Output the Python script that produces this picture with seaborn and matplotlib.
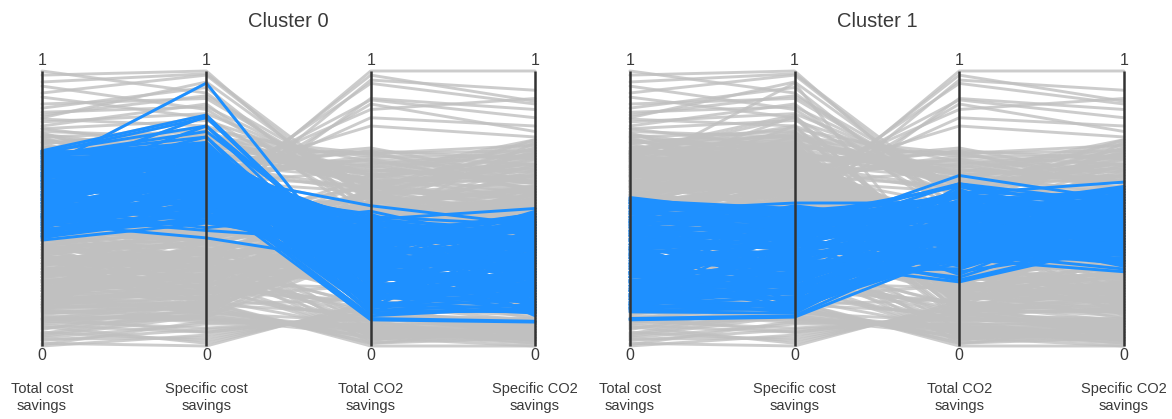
import numpy as np
import pandas as pd
import matplotlib
matplotlib.use("Agg")
import matplotlib.pyplot as plt
import seaborn as sns

# ---------------- data ----------------
categories = ["Total cost savings", "Specific cost savings",
              "Total CO2 savings", "Specific CO2 savings"]
tick_labels = ["Total cost\nsavings", "Specific cost\nsavings",
               "Total CO2\nsavings", "Specific CO2\nsavings"]
panel_titles = ["Cluster 0", "Cluster 1"]

# cluster 0 members
c0_total_cost = [0.645, 0.710, 0.700, 0.705, 0.690, 0.620, 0.385, 0.447, 0.550, 0.580,
                 0.600, 0.520, 0.570, 0.630, 0.700, 0.690, 0.675, 0.660, 0.650, 0.640,
                 0.625, 0.610, 0.600, 0.590, 0.575, 0.560, 0.550, 0.540, 0.530, 0.520,
                 0.510, 0.500, 0.490, 0.480, 0.470, 0.460, 0.450, 0.440, 0.430, 0.420,
                 0.410, 0.400, 0.395, 0.665, 0.685, 0.655, 0.615, 0.585, 0.535, 0.505,
                 0.465, 0.425, 0.605, 0.545, 0.475,
                 0.400, 0.408, 0.416, 0.424, 0.432, 0.440, 0.448, 0.456, 0.464, 0.472,
                 0.480, 0.488, 0.496, 0.504, 0.512, 0.520, 0.528, 0.536, 0.544, 0.552,
                 0.560, 0.568, 0.576, 0.584, 0.592, 0.600, 0.608, 0.616, 0.624, 0.632,
                 0.640, 0.648, 0.656, 0.664, 0.672, 0.680, 0.688, 0.696, 0.704, 0.708,
                 0.580, 0.530, 0.620, 0.470, 0.650,
                 0.392, 0.405, 0.418, 0.430, 0.443, 0.455, 0.468, 0.482, 0.495, 0.508,
                 0.522, 0.535, 0.548, 0.562, 0.575, 0.588, 0.602, 0.615, 0.628, 0.642,
                 0.655, 0.668, 0.682, 0.695, 0.710,
                 0.398, 0.437, 0.476, 0.515, 0.554, 0.593, 0.632, 0.671]
c0_specific_cost = [0.956, 0.840, 0.830, 0.800, 0.780, 0.835, 0.447, 0.393, 0.625, 0.600,
                    0.540, 0.560, 0.580, 0.620, 0.720, 0.730, 0.700, 0.650, 0.720, 0.680,
                    0.560, 0.710, 0.660, 0.500, 0.720, 0.480, 0.690, 0.600, 0.450, 0.640,
                    0.520, 0.700, 0.470, 0.580, 0.420, 0.620, 0.510, 0.450, 0.670, 0.490,
                    0.550, 0.600, 0.470, 0.600, 0.660, 0.540, 0.760, 0.800, 0.700, 0.430,
                    0.560, 0.640, 0.500, 0.670, 0.620,
                    0.500, 0.455, 0.530, 0.480, 0.560, 0.520, 0.470, 0.540, 0.500, 0.590,
                    0.530, 0.610, 0.560, 0.520, 0.600, 0.580, 0.630, 0.550, 0.640, 0.590,
                    0.660, 0.610, 0.650, 0.570, 0.680, 0.630, 0.690, 0.600, 0.700, 0.650,
                    0.710, 0.640, 0.700, 0.670, 0.720, 0.620, 0.690, 0.740, 0.700, 0.680,
                    0.620, 0.680, 0.560, 0.650, 0.590,
                    0.520, 0.580, 0.460, 0.610, 0.540, 0.600, 0.510, 0.640, 0.480, 0.620,
                    0.540, 0.660, 0.520, 0.700, 0.560, 0.680, 0.580, 0.720, 0.590, 0.740,
                    0.680, 0.710, 0.640, 0.760, 0.690,
                    0.490, 0.570, 0.530, 0.650, 0.610, 0.700, 0.670, 0.730]
c0_total_co2 = [0.21, 0.26, 0.28, 0.30, 0.33, 0.25, 0.36, 0.30, 0.51, 0.46,
                0.095, 0.100, 0.130, 0.120, 0.18, 0.22, 0.40, 0.45, 0.35, 0.15,
                0.48, 0.27, 0.38, 0.42, 0.20, 0.35, 0.16, 0.30, 0.44, 0.24,
                0.40, 0.14, 0.33, 0.46, 0.38, 0.19, 0.28, 0.47, 0.22, 0.41,
                0.34, 0.17, 0.43, 0.31, 0.12, 0.26, 0.14, 0.23, 0.29, 0.49,
                0.11, 0.37, 0.20, 0.44, 0.39,
                0.26, 0.32, 0.18, 0.25, 0.21, 0.29, 0.35, 0.24, 0.31, 0.17,
                0.27, 0.20, 0.32, 0.37, 0.26, 0.34, 0.19, 0.40, 0.28, 0.36,
                0.23, 0.42, 0.30, 0.44, 0.25, 0.38, 0.33, 0.47, 0.29, 0.41,
                0.17, 0.36, 0.24, 0.43, 0.31, 0.27, 0.39, 0.15, 0.34, 0.22,
                0.14, 0.16, 0.13, 0.18, 0.15,
                0.40, 0.33, 0.45, 0.28, 0.38, 0.21, 0.43, 0.25, 0.39, 0.18,
                0.46, 0.27, 0.33, 0.20, 0.41, 0.35, 0.24, 0.32, 0.45, 0.19,
                0.38, 0.26, 0.44, 0.23, 0.30,
                0.42, 0.30, 0.36, 0.22, 0.37, 0.26, 0.34, 0.28]
c0_specific_co2 = [0.30, 0.35, 0.22, 0.40, 0.28, 0.31, 0.42, 0.33, 0.44, 0.50,
                   0.087, 0.090, 0.124, 0.130, 0.16, 0.45, 0.20, 0.38, 0.14, 0.47,
                   0.26, 0.18, 0.44, 0.34, 0.25, 0.46, 0.36, 0.15, 0.24, 0.41,
                   0.48, 0.20, 0.12, 0.30, 0.37, 0.43, 0.19, 0.34, 0.27, 0.16,
                   0.45, 0.28, 0.22, 0.49, 0.33, 0.13, 0.40, 0.17, 0.29, 0.36,
                   0.14, 0.11, 0.39, 0.23, 0.47,
                   0.30, 0.27, 0.23, 0.21, 0.18, 0.32, 0.31, 0.26, 0.35, 0.21,
                   0.25, 0.17, 0.29, 0.40, 0.22, 0.38, 0.26, 0.36, 0.32, 0.33,
                   0.19, 0.38, 0.35, 0.41, 0.28, 0.42, 0.30, 0.44, 0.37, 0.46,
                   0.22, 0.27, 0.39, 0.35, 0.44, 0.15, 0.48, 0.12, 0.26, 0.42,
                   0.17, 0.13, 0.15, 0.14, 0.19,
                   0.44, 0.38, 0.41, 0.23, 0.45, 0.27, 0.39, 0.31, 0.43, 0.21,
                   0.42, 0.18, 0.37, 0.30, 0.47, 0.24, 0.34, 0.40, 0.31, 0.16,
                   0.45, 0.21, 0.39, 0.34, 0.28,
                   0.38, 0.35, 0.27, 0.25, 0.43, 0.20, 0.36, 0.32]

# cluster 1 members
c1_total_cost = [0.540, 0.490, 0.350, 0.300, 0.200, 0.250, 0.095, 0.100, 0.124, 0.130,
                 0.530, 0.520, 0.510, 0.500, 0.480, 0.470, 0.460, 0.450, 0.440, 0.430,
                 0.420, 0.410, 0.400, 0.390, 0.380, 0.370, 0.360, 0.345, 0.330, 0.320,
                 0.310, 0.290, 0.280, 0.270, 0.260, 0.250, 0.240, 0.230, 0.220, 0.210,
                 0.200, 0.190, 0.180, 0.170, 0.160, 0.150, 0.140, 0.135, 0.525, 0.455,
                 0.405, 0.335, 0.265, 0.185, 0.155,
                 0.140, 0.150, 0.160, 0.170, 0.180, 0.190, 0.200, 0.210, 0.220, 0.230,
                 0.240, 0.250, 0.260, 0.270, 0.280, 0.290, 0.300, 0.310, 0.320, 0.330,
                 0.340, 0.350, 0.360, 0.370, 0.380, 0.390, 0.400, 0.410, 0.420, 0.430,
                 0.440, 0.450, 0.460, 0.470, 0.480, 0.490, 0.500, 0.510, 0.520, 0.530,
                 0.135, 0.152, 0.168, 0.185, 0.202, 0.218, 0.235, 0.252, 0.268, 0.285,
                 0.302, 0.318, 0.335, 0.352, 0.368, 0.385, 0.402, 0.418, 0.435, 0.452,
                 0.468, 0.485, 0.502, 0.518, 0.535,
                 0.145, 0.175, 0.205, 0.235, 0.265, 0.295, 0.325, 0.355, 0.385, 0.415,
                 0.445, 0.505]
c1_specific_cost = [0.470, 0.520, 0.410, 0.380, 0.305, 0.350, 0.105, 0.110, 0.120, 0.135,
                    0.500, 0.440, 0.350, 0.480, 0.420, 0.270, 0.500, 0.230, 0.460, 0.380,
                    0.300, 0.490, 0.200, 0.430, 0.330, 0.160, 0.470, 0.250, 0.400, 0.150,
                    0.280, 0.450, 0.190, 0.360, 0.230, 0.490, 0.140, 0.320, 0.400, 0.260,
                    0.170, 0.430, 0.120, 0.290, 0.210, 0.380, 0.160, 0.250, 0.330, 0.150,
                    0.510, 0.130, 0.500, 0.350, 0.440,
                    0.150, 0.180, 0.140, 0.200, 0.220, 0.170, 0.240, 0.200, 0.270, 0.250,
                    0.220, 0.300, 0.280, 0.260, 0.320, 0.310, 0.290, 0.350, 0.340, 0.310,
                    0.370, 0.330, 0.390, 0.360, 0.410, 0.370, 0.420, 0.400, 0.440, 0.410,
                    0.470, 0.430, 0.480, 0.450, 0.490, 0.460, 0.500, 0.470, 0.490, 0.450,
                    0.160, 0.200, 0.150, 0.260, 0.190, 0.230, 0.280, 0.210, 0.330, 0.250,
                    0.340, 0.290, 0.380, 0.300, 0.420, 0.350, 0.450, 0.390, 0.420, 0.480,
                    0.410, 0.460, 0.430, 0.480, 0.470,
                    0.130, 0.190, 0.220, 0.250, 0.240, 0.320, 0.300, 0.370, 0.400, 0.380,
                    0.440, 0.490]
c1_total_co2 = [0.58, 0.52, 0.62, 0.553, 0.233, 0.316, 0.34, 0.38, 0.42, 0.36,
                0.45, 0.59, 0.30, 0.36, 0.50, 0.28, 0.40, 0.55, 0.26, 0.48,
                0.33, 0.54, 0.44, 0.29, 0.52, 0.38, 0.35, 0.58, 0.27, 0.46,
                0.31, 0.50, 0.37, 0.56, 0.42, 0.30, 0.49, 0.25, 0.59, 0.34,
                0.53, 0.39, 0.45, 0.28, 0.57, 0.33, 0.47, 0.41, 0.42, 0.36,
                0.44, 0.51, 0.48, 0.24, 0.54,
                0.33, 0.38, 0.33, 0.36, 0.41, 0.35, 0.43, 0.31, 0.40, 0.45,
                0.37, 0.44, 0.39, 0.47, 0.42, 0.50, 0.36, 0.46, 0.53, 0.41,
                0.49, 0.38, 0.51, 0.44, 0.55, 0.48, 0.40, 0.52, 0.46, 0.38,
                0.50, 0.43, 0.33, 0.47, 0.39, 0.51, 0.42, 0.35, 0.48, 0.55,
                0.35, 0.44, 0.38, 0.47, 0.30, 0.51, 0.34, 0.43, 0.55, 0.37,
                0.45, 0.52, 0.32, 0.47, 0.56, 0.40, 0.30, 0.49, 0.37, 0.54,
                0.44, 0.31, 0.52, 0.41, 0.47,
                0.37, 0.42, 0.33, 0.48, 0.39, 0.45, 0.36, 0.50, 0.43, 0.34,
                0.47, 0.44]
c1_specific_co2 = [0.50, 0.55, 0.53, 0.596, 0.369, 0.270, 0.40, 0.35, 0.45, 0.52,
                   0.40, 0.48, 0.56, 0.33, 0.58, 0.46, 0.31, 0.38, 0.50, 0.29,
                   0.54, 0.45, 0.34, 0.42, 0.57, 0.48, 0.30, 0.44, 0.36, 0.55,
                   0.32, 0.39, 0.58, 0.33, 0.47, 0.53, 0.37, 0.44, 0.52, 0.28,
                   0.42, 0.56, 0.31, 0.49, 0.36, 0.43, 0.57, 0.29, 0.52, 0.39,
                   0.35, 0.46, 0.41, 0.38, 0.50,
                   0.36, 0.41, 0.33, 0.31, 0.45, 0.39, 0.40, 0.35, 0.44, 0.48,
                   0.33, 0.42, 0.46, 0.51, 0.38, 0.47, 0.41, 0.50, 0.49, 0.37,
                   0.54, 0.43, 0.48, 0.40, 0.52, 0.45, 0.37, 0.56, 0.43, 0.34,
                   0.47, 0.49, 0.36, 0.53, 0.44, 0.46, 0.39, 0.31, 0.51, 0.47,
                   0.38, 0.47, 0.34, 0.53, 0.36, 0.45, 0.40, 0.50, 0.49, 0.31,
                   0.55, 0.43, 0.37, 0.41, 0.54, 0.46, 0.34, 0.52, 0.30, 0.48,
                   0.42, 0.38, 0.57, 0.35, 0.44,
                   0.42, 0.38, 0.44, 0.51, 0.35, 0.40, 0.46, 0.53, 0.39, 0.37,
                   0.50, 0.42]

# remaining observations (other clusters, shown only in grey)
other_total_cost = [1.000, 0.985, 0.920, 0.880, 0.865, 0.850, 0.830, 0.815, 0.800, 0.790,
                    0.700, 0.650, 0.600, 0.740, 0.560, 0.760, 0.680, 0.620, 0.580, 0.720,
                    0.780, 0.770, 0.760, 0.750, 0.740, 0.730, 0.720, 0.710, 0.700, 0.690,
                    0.680, 0.670, 0.660, 0.650, 0.640, 0.620, 0.600, 0.580, 0.775, 0.735,
                    0.000, 0.010, 0.030, 0.050, 0.065, 0.075, 0.085, 0.090, 0.100, 0.110,
                    0.120, 0.060, 0.040, 0.130, 0.020,
                    0.790, 0.765, 0.745, 0.725, 0.705, 0.695, 0.675, 0.655, 0.635, 0.615,
                    0.595, 0.570, 0.755, 0.715, 0.685,
                    0.005, 0.025, 0.045, 0.070, 0.080, 0.095, 0.105, 0.115, 0.125, 0.035,
                    0.960, 0.905, 0.840, 0.945, 0.825,
                    0.140, 0.160, 0.180, 0.200, 0.220, 0.240, 0.260, 0.280, 0.300, 0.320,
                    0.340, 0.360, 0.150, 0.250, 0.370,
                    0.150, 0.180, 0.210, 0.240, 0.270, 0.300, 0.330, 0.360, 0.200, 0.280,
                    0.170, 0.320, 0.230, 0.350]
other_specific_cost = [0.920, 1.000, 0.985, 0.900, 0.940, 0.870, 0.960, 0.845, 0.880, 0.820,
                       0.500, 0.520, 0.480, 0.550, 0.470, 0.580, 0.530, 0.600, 0.560, 0.620,
                       0.760, 0.700, 0.780, 0.650, 0.730, 0.610, 0.770, 0.680, 0.740, 0.620,
                       0.750, 0.660, 0.720, 0.690, 0.630, 0.710, 0.640, 0.670, 0.600, 0.790,
                       0.040, 0.000, 0.080, 0.020, 0.110, 0.050, 0.130, 0.065, 0.150, 0.095,
                       0.140, 0.160, 0.120, 0.100, 0.060,
                       0.720, 0.680, 0.760, 0.640, 0.700, 0.770, 0.610, 0.740, 0.680, 0.620,
                       0.730, 0.660, 0.590, 0.750, 0.650,
                       0.090, 0.030, 0.140, 0.010, 0.100, 0.120, 0.050, 0.160, 0.085, 0.110,
                       0.990, 0.830, 0.910, 0.860, 0.800,
                       0.180, 0.220, 0.150, 0.260, 0.300, 0.200, 0.340, 0.250, 0.380, 0.290,
                       0.410, 0.330, 0.350, 0.170, 0.240,
                       0.200, 0.260, 0.320, 0.180, 0.290, 0.350, 0.230, 0.310, 0.380, 0.150,
                       0.280, 0.270, 0.340, 0.210]
other_total_co2 = [0.50, 0.48, 0.52, 0.55, 0.47, 0.58, 0.53, 0.60, 0.45, 0.62,
                   1.000, 0.985, 0.967, 0.955, 0.900, 0.895, 0.880, 0.860, 0.830, 0.800,
                   0.70, 0.64, 0.58, 0.71, 0.62, 0.68, 0.55, 0.66, 0.60, 0.69,
                   0.63, 0.57, 0.70, 0.61, 0.66, 0.59, 0.65, 0.72, 0.56, 0.67,
                   0.12, 0.16, 0.08, 0.14, 0.05, 0.11, 0.03, 0.10, 0.01, 0.07,
                   0.02, 0.00, 0.06, 0.04, 0.10,
                   0.60, 0.67, 0.59, 0.71, 0.63, 0.57, 0.68, 0.62, 0.70, 0.58,
                   0.65, 0.61, 0.64, 0.69, 0.56,
                   0.07, 0.13, 0.03, 0.15, 0.06, 0.09, 0.12, 0.01, 0.08, 0.05,
                   0.54, 0.49, 0.57, 0.51, 0.59,
                   0.10, 0.04, 0.12, 0.07, 0.02, 0.09, 0.05, 0.11, 0.03, 0.08,
                   0.06, 0.10, 0.01, 0.06, 0.04,
                   0.16, 0.13, 0.20, 0.22, 0.15, 0.18, 0.21, 0.14, 0.19, 0.17,
                   0.23, 0.12, 0.24, 0.16]
other_specific_co2 = [0.62, 0.66, 0.58, 0.70, 0.64, 0.72, 0.68, 0.60, 0.74, 0.66,
                      1.000, 0.890, 0.930, 0.880, 0.860, 0.830, 0.780, 0.900, 0.800, 0.760,
                      0.73, 0.60, 0.68, 0.56, 0.74, 0.64, 0.58, 0.71, 0.62, 0.66,
                      0.55, 0.72, 0.60, 0.69, 0.57, 0.65, 0.70, 0.61, 0.67, 0.59,
                      0.05, 0.03, 0.02, 0.06, 0.04, 0.08, 0.00, 0.05, 0.07, 0.02,
                      0.09, 0.00, 0.05, 0.01, 0.08,
                      0.70, 0.63, 0.58, 0.68, 0.75, 0.62, 0.57, 0.66, 0.71, 0.64,
                      0.59, 0.73, 0.61, 0.69, 0.56,
                      0.06, 0.03, 0.07, 0.09, 0.04, 0.10, 0.06, 0.03, 0.08, 0.02,
                      0.69, 0.63, 0.75, 0.71, 0.65,
                      0.07, 0.03, 0.09, 0.05, 0.08, 0.02, 0.06, 0.10, 0.04, 0.07,
                      0.01, 0.09, 0.05, 0.08, 0.03,
                      0.12, 0.18, 0.10, 0.15, 0.21, 0.13, 0.19, 0.11, 0.16, 0.22,
                      0.20, 0.17, 0.14, 0.24]

groups = {
    "c0": [c0_total_cost, c0_specific_cost, c0_total_co2, c0_specific_co2],
    "c1": [c1_total_cost, c1_specific_cost, c1_total_co2, c1_specific_co2],
    "other": [other_total_cost, other_specific_cost, other_total_co2, other_specific_co2],
}

records = []
for gname, cols in groups.items():
    n = min(len(c) for c in cols)
    for i in range(n):
        for j, col in enumerate(cols):
            records.append((f"{gname}_{i}", gname, j, col[i]))
df = pd.DataFrame(records, columns=["line", "group", "axis", "value"])

# ---------------- style ----------------
sns.set_style("white")
plt.rcParams["font.family"] = ["Liberation Sans", "DejaVu Sans"]
text_color = "#3a3a3a"
grey = "#c0c0c0"
blue = "#1e90ff"
lw = 2.1

fig = plt.figure(figsize=(11.72, 4.19), dpi=100)
positions = [[0.02184, 0.1611, 0.44872, 0.6826],
             [0.52346, 0.1611, 0.44957, 0.6826]]

for k, pos in enumerate(positions):
    ax = fig.add_axes(pos)
    sns.lineplot(data=df, x="axis", y="value", units="line", estimator=None,
                 color=grey, alpha=0.8, linewidth=lw, sort=False, ax=ax,
                 legend=False)
    sns.lineplot(data=df[df["group"] == f"c{k}"], x="axis", y="value",
                 units="line", estimator=None, color=blue, alpha=1.0,
                 linewidth=lw, sort=False, ax=ax, legend=False)
    ax.vlines(range(4), 0, 1, color="#333333", linewidth=1.8, zorder=5)
    for j in range(4):
        ax.text(j, 1.022, "1", ha="center", va="baseline", fontsize=11.5,
                color=text_color)
        ax.text(j, -0.008, "0", ha="center", va="top", fontsize=11.5,
                color=text_color)
    ax.set_xlim(-0.1, 3.1)
    ax.set_ylim(-0.02, 1.02)
    ax.set_xticks(range(4))
    ax.set_xticklabels(tick_labels, fontsize=10.5, color=text_color,
                       linespacing=1.25)
    ax.tick_params(axis="x", length=0, pad=22)
    ax.set_yticks([])
    ax.set_xlabel("")
    ax.set_ylabel("")
    for s in ax.spines.values():
        s.set_visible(False)
    ax.set_title(panel_titles[k], fontsize=14.5, color=text_color, pad=28)

fig.savefig("out.png", dpi=100)
